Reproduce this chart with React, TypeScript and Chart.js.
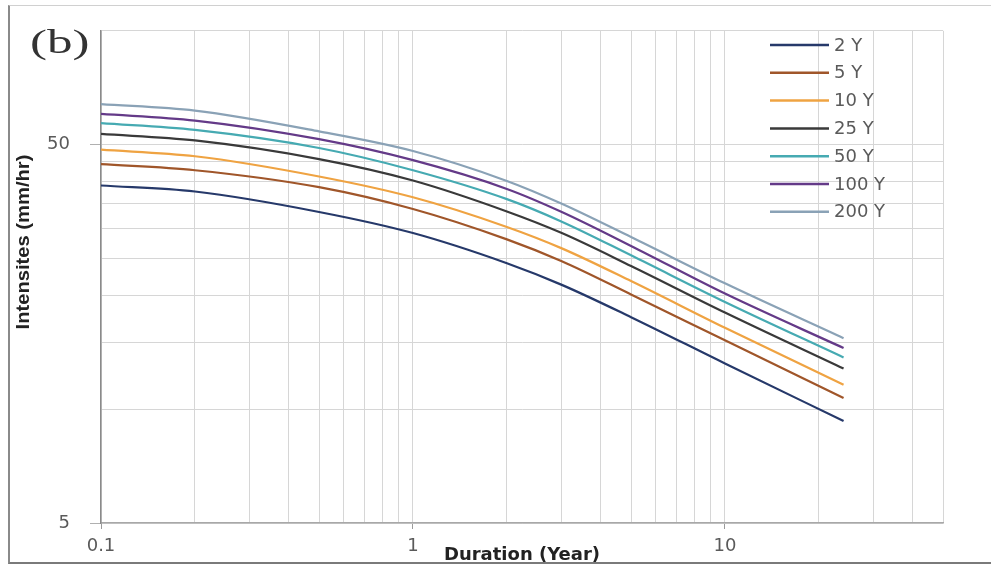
import React, { useEffect, useRef } from "react";
import { Chart, registerables } from "chart.js";

Chart.register(...registerables);

// Durations (x) and intensities (mm/hr) per return period
const durations = [0.1, 0.2, 0.5, 1, 2, 3, 5, 10, 24];
const y2 = [39.0, 37.6, 33.2, 29.2, 24.3, 21.3, 17.5, 13.2, 9.3];
const y5 = [44.4, 42.8, 38.6, 33.8, 28.1, 24.6, 20.1, 15.2, 10.7];
const y10 = [48.5, 46.6, 41.2, 36.3, 30.3, 26.6, 21.8, 16.4, 11.6];
const y25 = [53.4, 51.3, 45.8, 40.2, 33.3, 29.2, 23.9, 18.0, 12.8];
const y50 = [57.0, 54.7, 49.0, 42.8, 35.9, 31.3, 25.5, 19.2, 13.7];
const y100 = [60.3, 57.9, 51.7, 45.5, 38.2, 33.2, 27.0, 20.2, 14.5];
const y200 = [64.0, 61.5, 54.2, 48.1, 40.1, 34.9, 28.5, 21.5, 15.4];

const seriesLabels = ["2 Y", "5 Y", "10 Y", "25 Y", "50 Y", "100 Y", "200 Y"];
const seriesValues = [y2, y5, y10, y25, y50, y100, y200];
const seriesColors = ["#26396a", "#a0562a", "#efa342", "#3a3a3a", "#46aab2", "#643a88", "#8aa2b6"];

const xGridTicks = [0.1, 0.2, 0.3, 0.4, 0.5, 0.6, 0.7, 0.8, 0.9, 1, 2, 3, 4, 5, 6, 7, 8, 9, 10, 20, 30, 40, 50];
const xLabelTicks = [0.1, 1, 10];
const yGridTicks = [5, 10, 15, 20, 25, 30, 35, 40, 45, 50, 100];
const yLabelTicks = [5, 50];

const legendPlugin = {
  id: "customLegend",
  afterDraw(chart: any) {
    const ctx = chart.ctx;
    const x0 = 770;
    const x1 = 829;
    const top = 45;
    const step = 27.8;
    ctx.save();
    chart.data.datasets.forEach((ds: any, i: number) => {
      const y = top + i * step;
      ctx.strokeStyle = ds.borderColor;
      ctx.lineWidth = 2.5;
      ctx.beginPath();
      ctx.moveTo(x0, y);
      ctx.lineTo(x1, y);
      ctx.stroke();
      ctx.fillStyle = "#5a5a5a";
      ctx.font = "18px 'DejaVu Sans'";
      ctx.textBaseline = "middle";
      ctx.textAlign = "left";
      ctx.fillText(ds.label, x1 + 5, y + 1);
    });
    ctx.restore();
  },
};

export default function App() {
  const canvasRef = useRef<HTMLCanvasElement | null>(null);

  useEffect(() => {
    if (!canvasRef.current) return;
    const datasets = seriesLabels.map((label, i) => ({
      label,
      data: durations.map((d, j) => ({ x: d, y: seriesValues[i][j] })),
      borderColor: seriesColors[i],
      backgroundColor: seriesColors[i],
      borderWidth: 2.2,
      pointRadius: 0,
      fill: false,
      cubicInterpolationMode: "monotone" as const,
    }));

    const chart = new Chart(canvasRef.current, {
      type: "line",
      data: { datasets },
      plugins: [legendPlugin],
      options: {
        animation: false,
        responsive: false,
        devicePixelRatio: 1,
        layout: { padding: { left: 0, right: 48, top: 25, bottom: 0 } },
        plugins: {
          legend: { display: false },
          tooltip: { enabled: false },
          title: { display: false },
        },
        scales: {
          x: {
            type: "logarithmic",
            min: 0.1,
            max: 50,
            afterBuildTicks: (scale: any) => {
              scale.ticks = xGridTicks.map((v) => ({ value: v }));
            },
            afterFit: (scale: any) => {
              scale.height = 45;
            },
            ticks: {
              autoSkip: false,
              maxRotation: 0,
              padding: 7,
              color: "#5a5a5a",
              font: { family: "'DejaVu Sans'", size: 18 },
              callback: (v: any) => (xLabelTicks.includes(Number(v)) ? String(v) : ""),
            },
            grid: {
              color: "#d6d6d6",
              lineWidth: 1,
              drawTicks: true,
              tickLength: 6,
              tickColor: (ctx: any) =>
                ctx.tick && xLabelTicks.includes(ctx.tick.value) ? "#9a9a9a" : "rgba(0,0,0,0)",
            },
            border: { display: true, color: "#a8a8a8", width: 1.5 },
            title: {
              display: true,
              text: "Duration (Year)",
              color: "#222",
              font: { family: "'DejaVu Sans'", size: 18, weight: "bold" },
              padding: { top: 0, bottom: 2 },
            },
          },
          y: {
            type: "logarithmic",
            min: 5,
            max: 100,
            afterBuildTicks: (scale: any) => {
              scale.ticks = yGridTicks.map((v) => ({ value: v }));
            },
            afterFit: (scale: any) => {
              scale.width = 101;
            },
            ticks: {
              autoSkip: false,
              padding: 20,
              color: "#5a5a5a",
              font: { family: "'DejaVu Sans'", size: 18 },
              callback: (v: any) => (yLabelTicks.includes(Number(v)) ? String(v) : ""),
            },
            grid: {
              color: "#d6d6d6",
              lineWidth: 1,
              drawTicks: true,
              tickLength: 11,
              tickColor: (ctx: any) =>
                ctx.tick && yLabelTicks.includes(ctx.tick.value) ? "#b0b0b0" : "rgba(0,0,0,0)",
            },
            border: { display: true, color: "#8a8a8a", width: 1.5 },
            title: { display: false },
          },
        },
      },
    });
    return () => chart.destroy();
  }, []);

  return (
    <div style={{ position: "fixed", left: 0, top: 0, width: 991, height: 568, background: "#fff", overflow: "hidden" }}>
      <canvas ref={canvasRef} width={991} height={568} style={{ position: "absolute", left: 0, top: 0 }} />
      <div
        style={{
          position: "absolute",
          left: 30,
          top: 22,
          fontFamily: "'Liberation Serif', 'DejaVu Serif', serif",
          fontSize: 34,
          color: "#333",
          lineHeight: "40px",
          transform: "scaleX(1.5)",
          transformOrigin: "left top",
          whiteSpace: "nowrap",
        }}
      >
        (b)
      </div>
      <div
        style={{
          position: "absolute",
          left: 23,
          top: 242,
          fontFamily: "'Liberation Sans', Arial, sans-serif",
          fontWeight: "bold",
          fontSize: 18,
          lineHeight: "20px",
          color: "#222",
          whiteSpace: "nowrap",
          transform: "translate(-50%, -50%) rotate(-90deg) scaleX(1.12)",
        }}
      >
        Intensites (mm/hr)
      </div>
      <div
        style={{
          position: "absolute",
          left: 8,
          top: 5,
          width: 983,
          height: 556,
          borderLeft: "2px solid #8a8a8a",
          borderTop: "1px solid #d0d0d0",
          borderBottom: "2px solid #7a7a7a",
          pointerEvents: "none",
        }}
      />
    </div>
  );
}
